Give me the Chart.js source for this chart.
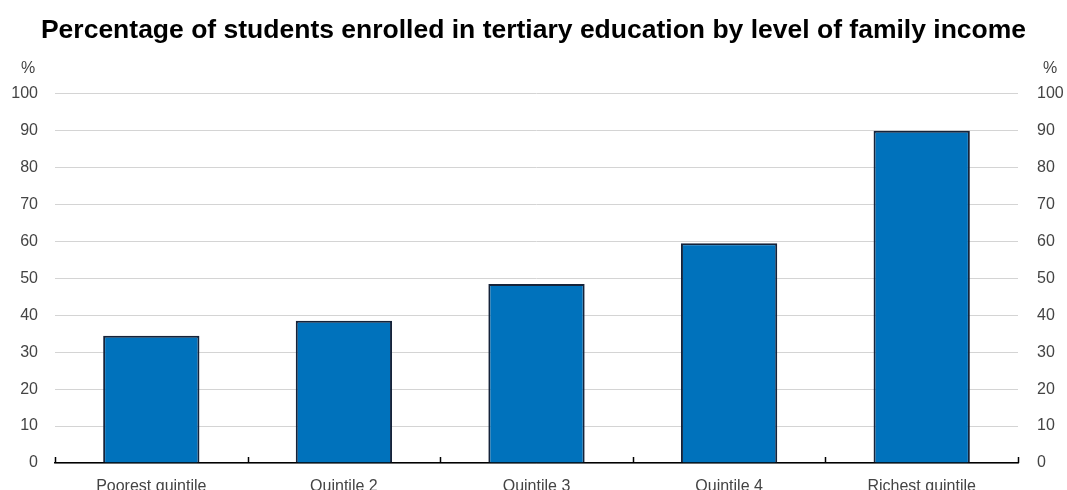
<!DOCTYPE html>
<html>
<head>
<meta charset="utf-8">
<script src="https://cdn.jsdelivr.net/npm/chart.js@4"></script>
<style>
  html, body { margin: 0; padding: 0; background: #fff; }
  #wrap { width: 1067px; height: 490px; position: relative; }
</style>
</head>
<body>
<div id="wrap"><canvas id="chart"></canvas></div>
<script>
// Data
const categories = ['Poorest quintile', 'Quintile 2', 'Quintile 3', 'Quintile 4', 'Richest quintile'];
const enrolled = [34.5, 38.5, 48.5, 59.5, 90];
const titleText = 'Percentage of students enrolled in tertiary education by level of family income';
const unitLabel = '%';

const tickFont = { family: "'Liberation Sans', Arial, sans-serif", size: 16 };
const tickColor = '#444';

// "%" above each y axis and small upward ticks on the base line
const extras = {
    id: 'extras',
    afterDraw(chart) {
        const ctx = chart.ctx;
        const area = chart.chartArea;
        ctx.save();
        ctx.fillStyle = tickColor;
        ctx.font = `${tickFont.size}px ${tickFont.family}`;
        ctx.textBaseline = 'middle';
        ctx.textAlign = 'center';
        ctx.fillText(unitLabel, 28, area.top - 25);
        ctx.fillText(unitLabel, 1050, area.top - 25);

        // tick marks at category boundaries
        ctx.strokeStyle = '#000';
        ctx.lineWidth = 1.5;
        const step = (area.right - area.left) / categories.length;
        for (let i = 0; i <= categories.length; i++) {
            const px = Math.round(area.left + i * step) + 0.5;
            ctx.beginPath();
            ctx.moveTo(px, area.bottom);
            ctx.lineTo(px, area.bottom - 6);
            ctx.stroke();
        }
        ctx.restore();
    }
};

const yTicks = {
    min: 0,
    max: 100,
    ticks: { stepSize: 10, color: tickColor, font: tickFont, padding: 17 },
    grid: { color: '#d4d4d4', lineWidth: 1, drawTicks: false },
    border: { display: false },
};

new Chart(document.getElementById('chart'), {
    type: 'bar',
    data: {
        labels: categories,
        datasets: [{
            data: enrolled,
            backgroundColor: '#0072bc',
            borderColor: '#15233a',
            borderWidth: 2,
            categoryPercentage: 1.0,
            barPercentage: 0.5,
        }],
    },
    options: {
        responsive: true,
        maintainAspectRatio: false,
        animation: false,
        layout: { padding: 0 },
        plugins: {
            legend: { display: false },
            tooltip: { enabled: false },
            title: {
                display: true,
                text: titleText,
                color: '#000',
                font: { family: "'Liberation Sans', Arial, sans-serif", size: 26.5, weight: 'bold' },
                padding: { top: 15, bottom: 47 },
            },
        },
        scales: {
            x: {
                ticks: { color: tickColor, font: tickFont, padding: 6, maxRotation: 0 },
                grid: { display: false },
                border: { display: true, color: '#000', width: 1.5 },
                afterFit: s => { s.height = 27; },
            },
            y: Object.assign({}, yTicks, {
                position: 'left',
                afterFit: s => { s.width = 55; },
            }),
            y2: Object.assign({}, yTicks, {
                position: 'right',
                ticks: { stepSize: 10, color: tickColor, font: tickFont, padding: 11 },
                grid: { display: false },
                afterFit: s => { s.width = 49; },
            }),
        },
    },
    plugins: [extras],
});
</script>
</body>
</html>
